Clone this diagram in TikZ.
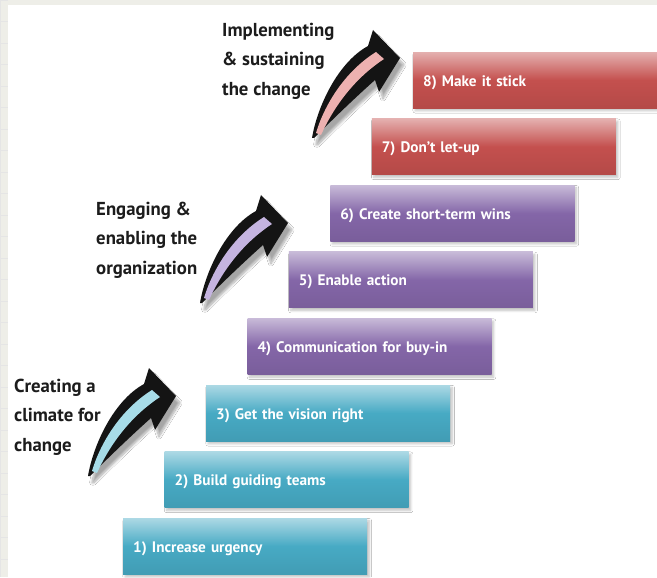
\documentclass[tikz,border=0pt]{standalone}
\usepackage{fontspec}
\setmainfont{PT Sans}
\setsansfont{PT Sans}
\usepackage{tikz}
\usetikzlibrary{shadows.blur}
\usepackage{xcolor}

\definecolor{stickred}{HTML}{C4504E}
\definecolor{winviolet}{HTML}{8466A8}
\definecolor{urgteal}{HTML}{47AAC4}
\definecolor{swpink}{HTML}{EDB1B0}
\definecolor{swlilac}{HTML}{C5B4E0}
\definecolor{swsky}{HTML}{A7DCE8}
\definecolor{paper}{HTML}{EEEEE8}
\definecolor{ink}{HTML}{1C1C1C}

% curved phase arrow, #1 = tail, #2 = stripe colour
\newcommand{\swoosh}[2]{%
  \begin{scope}[shift={#1}]
    \fill[black!92,blur shadow={shadow xshift=1.2mm,shadow yshift=-2mm,
        shadow opacity=35,shadow blur steps=10}]
      (0,0) .. controls (5,-30) and (25,-75) .. (56,-92) -- (61,-108)
      -- (88,-80) -- (67,-46) -- (63,-58)
      .. controls (45,-42) and (22,-20) .. (2,0) -- cycle;
    \fill[#2] (4,-5) .. controls (12,-32) and (32,-66) .. (64,-86)
      -- (72,-79) .. controls (46,-62) and (24,-36) .. (9,-3) -- cycle;
  \end{scope}}

\begin{document}
\begin{tikzpicture}[x=0.3mm,y=-0.3mm,
     bar/.style={anchor=north west,minimum width=73.2mm,minimum height=16.8mm,
       text width=67.2mm,align=left,inner sep=0pt,text=white,
       text height=1.25em,text depth=0.2em,
       font=\sffamily\bfseries\fontsize{13}{15}\selectfont,
       top color=#1!45!white,bottom color=#1!92!black,middle color=#1,
       blur shadow={shadow xshift=0.6mm,shadow yshift=-0.8mm,
         shadow opacity=25,shadow blur steps=6}},
     phase/.style={anchor=north west,align=left,inner sep=0pt,text=ink,
       font=\bfseries\fontsize{16}{25}\selectfont}]
    \useasboundingbox (0,0) rectangle (657,577);
    \fill[paper] (0,0) rectangle (657,577);
    \draw[black!10] (0,0) grid[xstep=100mm,ystep=6.45mm] (8,577);
    \fill[white] (8,5) rectangle (657,577);

    \swoosh{(312,138)}{swpink}
    \swoosh{(200,303)}{swlilac}
    \swoosh{(88,476)}{swsky}

    \node[phase] (impl) at (222,23) {Implementing\\\& sustaining\\the change};
    \node[phase] (engage) at (96,202) {Engaging \&\\enabling the\\organization};
    \node[phase] (climate) at (14,379) {Creating a\\climate for\\change};

    \node[bar=urgteal] (b1) at (123,518) {1) Increase urgency};
    \node[bar=urgteal] (b2) at (164.4,451.4) {2) Build guiding teams};
    \node[bar=urgteal] (b3) at (205.9,384.8) {3) Get the vision right};
    \node[bar=winviolet] (b4) at (247.3,318.2) {4) Communication for buy-in};
    \node[bar=winviolet] (b5) at (288.7,251.6) {5) Enable action};
    \node[bar=winviolet] (b6) at (330.1,185) {6) Create short-term wins};
    \node[bar=stickred] (b7) at (371.6,118.4) {7) Don't let-up};
    \node[bar=stickred] (b8) at (413,51.8) {8) Make it stick};
  \end{tikzpicture}
\end{document}
